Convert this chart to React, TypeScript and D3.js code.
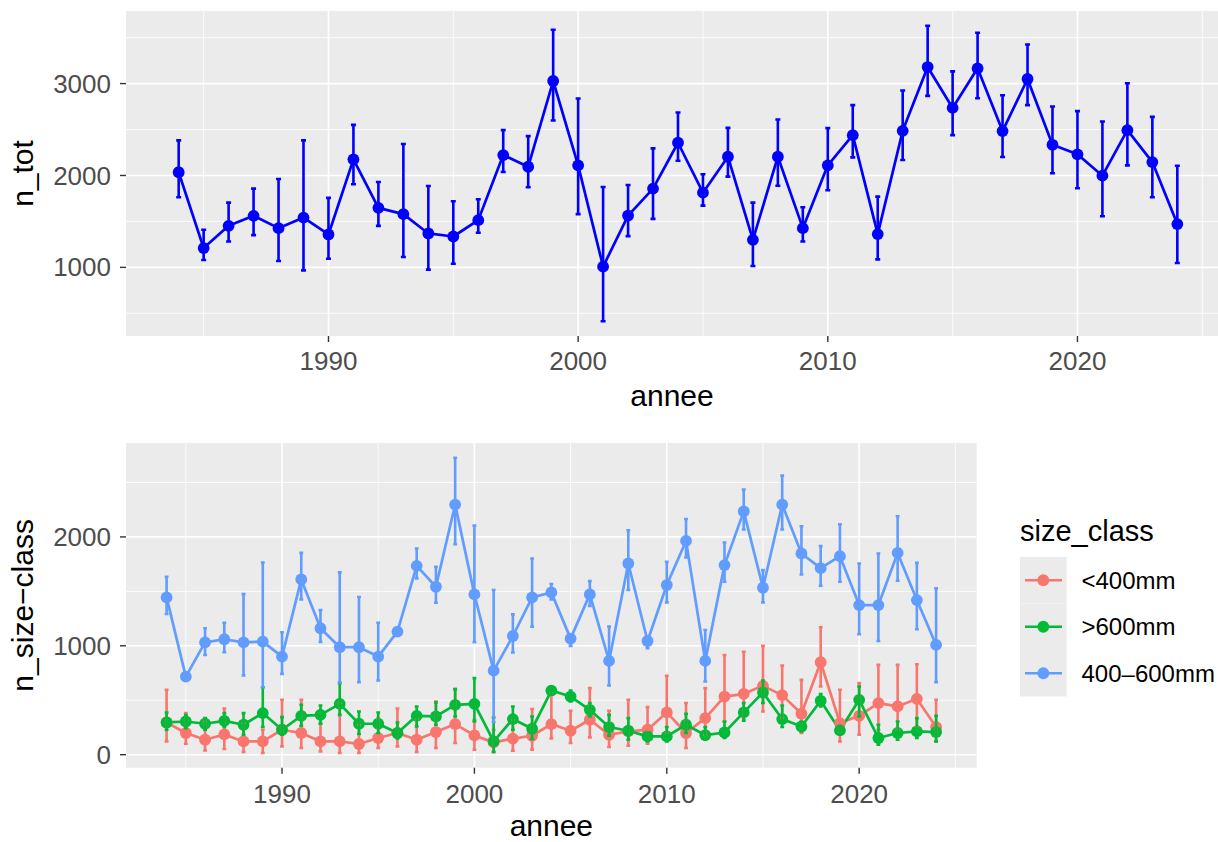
import React from 'react';
import * as d3 from 'd3';

const years = [1984, 1985, 1986, 1987, 1988, 1989, 1990, 1991, 1992, 1993, 1994, 1995, 1996, 1997, 1998, 1999, 2000, 2001, 2002, 2003, 2004, 2005, 2006, 2007, 2008, 2009, 2010, 2011, 2012, 2013, 2014, 2015, 2016, 2017, 2018, 2019, 2020, 2021, 2022, 2023, 2024];

const nTot = [2035, 1210, 1452, 1561, 1427, 1542, 1358, 2176, 1648, 1579, 1369, 1336, 1514, 2222, 2095, 3028, 2110, 1008, 1564, 1857, 2356, 1813, 2204, 1300, 2204, 1427, 2110, 2439, 1362, 2486, 3180, 2735, 3166, 2483, 3050, 2334, 2230, 1998, 2493, 2146, 1471];
const nTotLo = [1763, 1080, 1282, 1351, 1069, 967, 1094, 1905, 1452, 1113, 975, 1040, 1376, 2038, 1872, 2599, 1579, 414, 1340, 1528, 2160, 1672, 1987, 1015, 1889, 1282, 1839, 2197, 1087, 2168, 2866, 2439, 2841, 2201, 2765, 2024, 1861, 1557, 2110, 1763, 1048];
const nTotHi = [2382, 1409, 1705, 1857, 1962, 2382, 1756, 2551, 1929, 2342, 1886, 1720, 1742, 2494, 2428, 3586, 2837, 1875, 1897, 2295, 2685, 2013, 2518, 1705, 2609, 1655, 2515, 2765, 1770, 2924, 3629, 3133, 3553, 2873, 3426, 2751, 2700, 2588, 3003, 2638, 2106];

const classes = ['<400mm', '>600mm', '400\u2013600mm'];
const classColors = ['#F8766D', '#00BA38', '#619CFF'];

const smallVal = [296, 199, 137, 186, 122, 122, 229, 199, 122, 122, 98, 153, 199, 137, 208, 281, 177, 113, 147, 174, 281, 220, 321, 183, 214, 229, 388, 199, 336, 534, 559, 632, 547, 376, 849, 290, 357, 474, 443, 513, 254];
const smallLo = [122, 101, 39, 52, 25, 16, 76, 61, 30, 16, 16, 61, 76, 25, 61, 107, 46, 25, 37, 46, 150, 107, 159, 70, 82, 101, 199, 61, 183, 305, 336, 397, 336, 199, 626, 122, 183, 229, 229, 259, 122];
const smallHi = [596, 382, 305, 424, 290, 229, 504, 504, 290, 474, 275, 336, 424, 327, 488, 602, 321, 229, 321, 419, 565, 403, 611, 403, 504, 437, 724, 474, 611, 916, 946, 999, 818, 687, 1170, 596, 657, 825, 825, 831, 504];

const largeVal = [296, 305, 284, 311, 275, 382, 229, 357, 366, 467, 284, 284, 199, 357, 351, 458, 467, 122, 327, 238, 589, 534, 412, 254, 220, 168, 168, 275, 180, 204, 388, 571, 327, 259, 495, 223, 504, 153, 199, 214, 208];
const largeLo = [229, 244, 229, 254, 183, 254, 183, 266, 284, 366, 190, 199, 150, 259, 275, 351, 305, 25, 229, 144, 550, 488, 351, 174, 137, 122, 122, 199, 137, 153, 311, 474, 254, 214, 443, 183, 351, 92, 137, 153, 122];
const largeHi = [388, 363, 336, 382, 382, 620, 345, 458, 452, 657, 397, 388, 296, 443, 479, 602, 703, 342, 443, 351, 626, 589, 474, 366, 336, 204, 254, 376, 254, 305, 474, 681, 452, 305, 556, 266, 626, 275, 305, 336, 357];

const mediumVal = [1445, 717, 1032, 1060, 1032, 1038, 901, 1610, 1161, 987, 987, 901, 1130, 1734, 1542, 2297, 1472, 772, 1090, 1445, 1490, 1066, 1472, 861, 1756, 1044, 1558, 1963, 861, 1741, 2235, 1533, 2297, 1848, 1713, 1823, 1374, 1374, 1853, 1420, 1008];
const mediumLo = [1292, 690, 916, 941, 727, 620, 742, 1426, 1035, 663, 666, 681, 1100, 1619, 1395, 1933, 1032, 300, 938, 1176, 1426, 999, 1365, 635, 1512, 978, 1399, 1811, 672, 1588, 2068, 1399, 2068, 1655, 1551, 1588, 1106, 1044, 1597, 1152, 666];
const mediumHi = [1634, 745, 1161, 1212, 1475, 1765, 1124, 1853, 1328, 1674, 1448, 1212, 1160, 1894, 1725, 2727, 2104, 1512, 1289, 1802, 1567, 1097, 1594, 1176, 2061, 1084, 1771, 2165, 1145, 1949, 2434, 1695, 2563, 2098, 1915, 2116, 1756, 1848, 2190, 1762, 1527];

const topYTicks = [1000, 2000, 3000];
const topYMinor = [500, 1500, 2500, 3500];
const botYTicks = [0, 1000, 2000];
const botYMinor = [500, 1500, 2500];
const xTicks = [1990, 2000, 2010, 2020];
const xMinor = [1985, 1995, 2005, 2015, 2025];

const FONT = '"Liberation Sans", Arial, Helvetica, sans-serif';
const ERR_W = 0.2;

type Series = { name: string; color: string; val: number[]; lo: number[]; hi: number[] };

function expand(lo: number, hi: number, mult = 0.05): [number, number] {
  const r = hi - lo;
  return [lo - r * mult, hi + r * mult];
}

function Panel(props: {
  x0: number; x1: number; y0: number; y1: number;
  series: Series[]; yTicks: number[]; yMinor: number[]; yTitle: string;
  tickLabelY: number; titleY: number; yTitleX: number;
}) {
  const { x0, x1, y0, y1, series, yTicks, yMinor, yTitle } = props;
  const xs = d3.scaleLinear()
    .domain(expand(d3.min(years)! - ERR_W / 2, d3.max(years)! + ERR_W / 2))
    .range([x0, x1]);
  const allLo = d3.min(series.flatMap(s => s.lo))!;
  const allHi = d3.max(series.flatMap(s => s.hi))!;
  const ys = d3.scaleLinear().domain(expand(allLo, allHi)).range([y1, y0]);
  const line = d3.line<number>().x((_, i) => xs(years[i])).y(d => ys(d));
  const half = ERR_W / 2;
  const clipId = `clip-${Math.round(y0)}`;
  return (
    <g>
      <defs>
        <clipPath id={clipId}>
          <rect x={x0} y={y0} width={x1 - x0} height={y1 - y0} />
        </clipPath>
      </defs>
      <rect x={x0} y={y0} width={x1 - x0} height={y1 - y0} fill="#EBEBEB" />
      <g clipPath={`url(#${clipId})`}>
        {yMinor.map(t => (
          <line key={'ym' + t} x1={x0} x2={x1} y1={ys(t)} y2={ys(t)} stroke="#fff" strokeWidth={0.8} />
        ))}
        {xMinor.map(t => (
          <line key={'xm' + t} x1={xs(t)} x2={xs(t)} y1={y0} y2={y1} stroke="#fff" strokeWidth={0.8} />
        ))}
        {yTicks.map(t => (
          <line key={'yM' + t} x1={x0} x2={x1} y1={ys(t)} y2={ys(t)} stroke="#fff" strokeWidth={1.6} />
        ))}
        {xTicks.map(t => (
          <line key={'xM' + t} x1={xs(t)} x2={xs(t)} y1={y0} y2={y1} stroke="#fff" strokeWidth={1.6} />
        ))}
        {series.map(s => (
          <path key={'l' + s.name} d={line(s.val)!} fill="none" stroke={s.color} strokeWidth={2.7} strokeLinejoin="round" />
        ))}
        {series.map(s => (
          <g key={'p' + s.name}>
            {s.val.map((v, i) => (
              <circle key={i} cx={xs(years[i])} cy={ys(v)} r={5.9} fill={s.color} />
            ))}
          </g>
        ))}
        {series.map(s => (
          <g key={'e' + s.name} stroke={s.color} strokeWidth={2.6} fill="none">
            {years.map((yr, i) => (
              <path key={i}
                d={`M${xs(yr - half)},${ys(s.hi[i])}H${xs(yr + half)}M${xs(yr)},${ys(s.hi[i])}V${ys(s.lo[i])}M${xs(yr - half)},${ys(s.lo[i])}H${xs(yr + half)}`} />
            ))}
          </g>
        ))}
      </g>
      {/* y axis */}
      {yTicks.map(t => (
        <g key={'yt' + t}>
          <line x1={x0 - 6} x2={x0} y1={ys(t)} y2={ys(t)} stroke="#333" strokeWidth={1.4} />
          <text x={x0 - 15} y={ys(t)} dy="0.35em" textAnchor="end" fontSize={26} fill="#4D4D4D" fontFamily={FONT}>{t}</text>
        </g>
      ))}
      {/* x axis */}
      {xTicks.map(t => (
        <g key={'xt' + t}>
          <line x1={xs(t)} x2={xs(t)} y1={y1} y2={y1 + 6} stroke="#333" strokeWidth={1.4} />
          <text x={xs(t)} y={props.tickLabelY} textAnchor="middle" fontSize={26} fill="#4D4D4D" fontFamily={FONT}>{t}</text>
        </g>
      ))}
      <text x={(x0 + Math.min(x1, 1218)) / 2} y={props.titleY} textAnchor="middle" fontSize={30} fill="#000" fontFamily={FONT}>annee</text>
      <text transform={`translate(${props.yTitleX},${(y0 + y1) / 2}) rotate(-90)`} textAnchor="middle" fontSize={30} fill="#000" fontFamily={FONT}>{yTitle}</text>
    </g>
  );
}

export default function App() {
  const topSeries: Series[] = [{ name: 'n_tot', color: '#0000FF', val: nTot, lo: nTotLo, hi: nTotHi }];
  const botSeries: Series[] = [
    { name: classes[0], color: classColors[0], val: smallVal, lo: smallLo, hi: smallHi },
    { name: classes[1], color: classColors[1], val: largeVal, lo: largeLo, hi: largeHi },
    { name: classes[2], color: classColors[2], val: mediumVal, lo: mediumLo, hi: mediumHi },
  ];
  const legendY0 = 557;
  const keyH = 46.5;
  return (
    <svg width={1218} height={842} style={{ position: 'absolute', left: 0, top: 0, background: '#fff' }}>
      <rect x={0} y={0} width={1218} height={842} fill="#fff" />
      <Panel x0={126} x1={1230} y0={11} y1={336} series={topSeries} yTicks={topYTicks} yMinor={topYMinor}
        yTitle="n_tot" tickLabelY={370} titleY={406} yTitleX={33} />
      <Panel x0={126} x1={976.7} y0={443} y1={767.7} series={botSeries} yTicks={botYTicks} yMinor={botYMinor}
        yTitle={'n_size\u2212class'} tickLabelY={803} titleY={836} yTitleX={33} />
      {/* legend */}
      <text x={1020} y={540.5} fontSize={29} fill="#000" fontFamily={FONT}>size_class</text>
      {botSeries.map((s, i) => {
        const cy = legendY0 + keyH * i + keyH / 2;
        return (
          <g key={'lg' + s.name}>
            <rect x={1020} y={legendY0 + keyH * i} width={46.7} height={keyH} fill="#EBEBEB" />
            <line x1={1025} x2={1062} y1={cy} y2={cy} stroke={s.color} strokeWidth={2.7} />
            <circle cx={1043.3} cy={cy} r={5.9} fill={s.color} />
            <text x={1081.5} y={cy} dy="0.35em" fontSize={24} fill="#000" fontFamily={FONT}>{s.name}</text>
          </g>
        );
      })}
    </svg>
  );
}
